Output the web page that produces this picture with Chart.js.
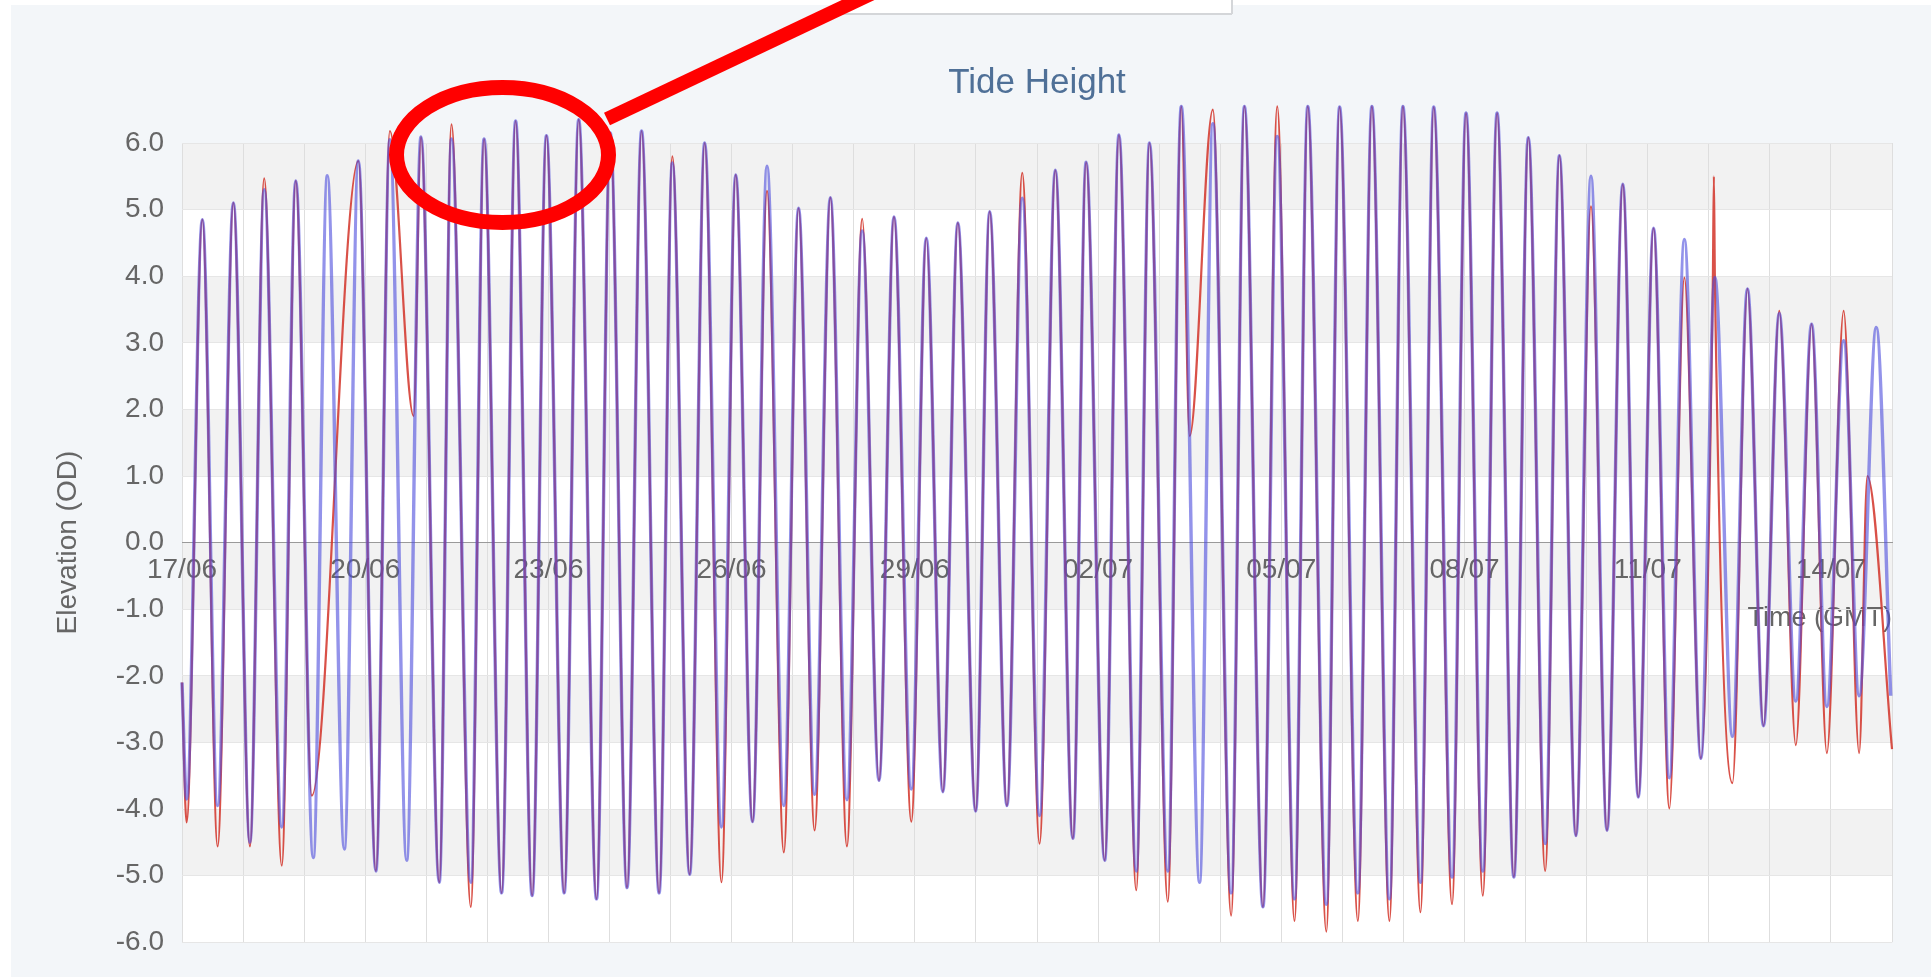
<!DOCTYPE html>
<html>
<head>
<meta charset="utf-8">
<title>Tide Height</title>
<script src="https://cdn.jsdelivr.net/npm/chart.js@4.4.1/dist/chart.umd.min.js"></script>
<style>
  html, body { margin: 0; padding: 0; background: #f3f6f9; overflow: hidden; }
  canvas { display: block; }
</style>
</head>
<body>
<canvas id="tide-chart" width="1931" height="977"></canvas>
<script>
// x is hours after 17/06 00:00 GMT, y is elevation (m OD)
const dayLabels = ['17/06', '20/06', '23/06', '26/06', '29/06', '02/07', '05/07', '08/07', '11/07', '14/07'];

// blue line: high and low waters
const predictedTide = [
  [0, -2.1], [1.8, -3.85], [8.0, 4.85], [14.0, -3.95], [20.2, 5.1], [26.7, -4.5],
  [32.3, 5.3], [39.2, -4.27], [44.7, 5.43], [51.6, -4.73], [57.1, 5.51], [63.8, -4.6],
  [69.3, 5.73], [76.2, -4.93], [81.7, 6.05], [88.3, -4.77], [93.9, 6.09], [101.1, -5.1],
  [105.9, 6.06], [113.5, -5.1], [118.7, 6.06], [125.6, -5.26], [131.1, 6.33], [137.6, -5.3],
  [143.2, 6.11], [150.2, -5.26], [155.9, 6.35], [162.9, -5.35], [168.3, 6.15], [174.9, -5.18],
  [180.6, 6.18], [187.5, -5.26], [192.7, 5.7], [199.5, -4.98], [205.4, 6.0], [212.0, -4.27],
  [217.6, 5.52], [224.2, -4.19], [229.9, 5.65], [236.5, -3.95], [242.3, 5.02], [248.6, -3.78],
  [254.8, 5.18], [261.3, -3.86], [267.3, 4.68], [273.9, -3.57], [279.8, 4.89], [286.6, -3.7],
  [292.5, 4.57], [299.0, -3.74], [304.9, 4.8], [311.9, -4.03], [317.4, 4.97], [324.2, -3.95],
  [330.2, 5.17], [337.0, -4.1], [343.2, 5.59], [350.1, -4.44], [355.3, 5.71], [362.6, -4.77],
  [368.2, 6.12], [375.0, -4.93], [380.2, 6.0], [387.4, -4.93], [392.7, 6.55], [399.9, -5.1],
  [405.1, 6.29], [412.3, -5.26], [417.5, 6.55], [424.8, -5.47], [430.4, 6.1], [437.2, -5.35],
  [442.4, 6.55], [449.7, -5.43], [454.9, 6.54], [462.1, -5.26], [467.6, 6.55], [474.5, -5.35],
  [479.8, 6.55], [486.7, -5.1], [491.9, 6.54], [499.1, -5.02], [504.6, 6.45], [511.2, -4.93],
  [516.8, 6.45], [523.4, -5.02], [529.1, 6.08], [535.7, -4.52], [541.3, 5.81], [547.8, -4.4],
  [553.7, 5.5], [560.0, -4.32], [566.2, 5.38], [572.3, -3.82], [578.3, 4.72], [584.5, -3.53],
  [590.4, 4.55], [596.9, -3.24], [602.4, 3.98], [609.3, -2.91], [615.2, 3.81], [621.5, -2.75],
  [627.7, 3.44], [634.2, -2.38], [640.4, 3.28], [646.4, -2.46], [653.0, 3.03], [659.1, -2.3],
  [665.8, 3.23], [671.5, -2.3],
];

// red line: recorded levels, with its gaps and the spike on 12/07
const recordedTide = [
  [0, -2.1], [1.8, -4.2], [8.0, 4.85], [14.0, -4.56], [20.2, 5.1], [26.7, -4.56],
  [32.3, 5.47], [39.2, -4.85], [44.7, 5.43], [51.0, -3.8], [69.3, 5.73], [76.2, -4.93],
  [81.7, 6.18], [91.0, 1.9], [93.9, 6.09], [101.1, -5.1], [105.9, 6.28], [113.5, -5.47],
  [118.7, 6.06], [125.6, -5.26], [131.1, 6.33], [137.6, -5.3], [143.2, 6.11], [150.2, -5.26],
  [155.9, 6.35], [162.9, -5.35], [168.3, 6.15], [174.9, -5.18], [180.6, 6.18], [187.5, -5.26],
  [192.7, 5.8], [199.5, -4.98], [205.4, 6.0], [212.0, -5.1], [217.6, 5.52], [224.2, -4.19],
  [229.9, 5.28], [236.5, -4.65], [242.3, 5.02], [248.6, -4.32], [254.8, 5.18], [261.3, -4.56],
  [267.3, 4.86], [273.9, -3.57], [279.8, 4.89], [286.6, -4.19], [292.5, 4.57], [299.0, -3.74],
  [304.9, 4.8], [311.9, -4.03], [317.4, 4.97], [324.2, -3.95], [330.2, 5.55], [337.0, -4.52],
  [343.2, 5.59], [350.1, -4.44], [355.3, 5.71], [362.6, -4.77], [368.2, 6.12], [375.0, -5.22],
  [380.2, 6.0], [387.4, -5.39], [392.7, 6.55], [396.0, 1.6], [405.1, 6.5], [412.3, -5.6],
  [417.5, 6.55], [424.8, -5.47], [430.4, 6.55], [437.2, -5.68], [442.4, 6.55], [449.7, -5.84],
  [454.9, 6.54], [462.1, -5.68], [467.6, 6.55], [474.5, -5.68], [479.8, 6.55], [486.7, -5.55],
  [491.9, 6.54], [499.1, -5.43], [504.6, 6.45], [511.2, -5.3], [516.8, 6.45], [523.4, -5.02],
  [529.1, 6.08], [535.7, -4.93], [541.3, 5.81], [547.8, -4.4], [553.7, 5.05], [560.0, -4.32],
  [566.2, 5.38], [572.3, -3.82], [578.3, 4.72], [584.5, -3.99], [590.4, 3.98], [596.9, -3.24],
  [601.6, 3.95], [602.0, 5.5], [602.4, 3.95], [609.3, -3.61], [615.2, 3.81], [621.5, -2.75],
  [627.7, 3.48], [634.2, -3.04], [640.4, 3.28], [646.4, -3.16], [653.0, 3.48], [659.1, -3.16],
  [662.3, 1.0], [672.0, -3.1],
];

Chart.defaults.font.family = '"Liberation Sans", Arial, sans-serif';

// page background, white plot area and the alternate grey bands
const plotBackground = {
  id: 'plotBackground',
  beforeDraw(chart) {
    const { ctx, chartArea: area } = chart;
    const y = chart.scales.y;
    ctx.save();
    ctx.fillStyle = '#f3f6f9';
    ctx.fillRect(0, 0, chart.width, chart.height);
    ctx.fillStyle = '#ffffff';
    ctx.fillRect(0, 0, chart.width, 5);
    ctx.fillRect(0, 0, 11, chart.height);
    ctx.fillRect(area.left, area.top, area.width, area.height);
    ctx.fillStyle = '#f2f2f2';
    for (let v = -5; v < 6; v += 2) {
      const top = y.getPixelForValue(v + 1);
      const bottom = y.getPixelForValue(v);
      ctx.fillRect(area.left, top, area.width, bottom - top);
    }
    ctx.restore();
  },
};

// the red ring and pointer drawn over the screenshot
const markup = {
  id: 'markup',
  afterDraw(chart) {
    const { ctx } = chart;
    ctx.save();
    // cropped box at the top edge
    ctx.fillStyle = '#ffffff';
    ctx.fillRect(837, 0, 394, 13);
    ctx.fillStyle = '#d4d6d9';
    ctx.fillRect(837, 13, 395, 2);
    ctx.fillRect(1231, 0, 2, 14);

    ctx.strokeStyle = '#ff0000';
    ctx.lineWidth = 15;
    ctx.beginPath();
    ctx.ellipse(502.5, 155, 106, 67.5, 0, 0, Math.PI * 2);
    ctx.stroke();

    ctx.lineWidth = 14;
    ctx.lineCap = 'butt';
    ctx.beginPath();
    ctx.moveTo(607, 119);
    ctx.lineTo(875, -8);
    ctx.stroke();
    ctx.restore();
  },
};

function toPoints(pairs) {
  return pairs.map(([x, y]) => ({ x, y }));
}

new Chart(document.getElementById('tide-chart'), {
  type: 'line',
  data: {
    datasets: [
      {
        label: 'Predicted',
        data: toPoints(predictedTide),
        borderColor: 'rgba(75, 75, 220, 0.6)',
        borderWidth: 3.4,
        pointRadius: 0,
        cubicInterpolationMode: 'monotone',
        clip: false,
      },
      {
        label: 'Recorded',
        data: toPoints(recordedTide),
        borderColor: 'rgba(210, 50, 40, 0.85)',
        borderWidth: 2.2,
        pointRadius: 0,
        cubicInterpolationMode: 'monotone',
        clip: false,
      },
    ],
  },
  options: {
    responsive: false,
    animation: false,
    events: [],
    layout: { padding: { left: 0, right: 39, top: 0, bottom: 16 } },
    plugins: {
      legend: { display: false },
      tooltip: { enabled: false },
      title: {
        display: true,
        fullSize: false,
        text: 'Tide Height',
        color: '#4f7097',
        font: { size: 35, weight: 'normal' },
        padding: { top: 62, bottom: 39 },
      },
    },
    scales: {
      x: {
        type: 'linear',
        min: 0,
        max: 672,
        position: { y: 0 },
        grid: { color: '#dedede', drawTicks: false },
        border: { color: '#9a9a9a', width: 1 },
        ticks: {
          stepSize: 24,
          autoSkip: false,
          minRotation: 0,
          maxRotation: 0,
          padding: 11,
          color: '#666',
          font: { size: 28 },
          callback: (value) => (value % 72 === 0 ? dayLabels[value / 72] || '' : ''),
        },
        title: {
          display: true,
          text: 'Time (GMT)',
          align: 'end',
          color: '#666',
          font: { size: 27 },
          padding: { top: 4, bottom: 0 },
        },
      },
      y: {
        min: -6,
        max: 6,
        grid: {
          color: (ctx) => (ctx.tick && ctx.tick.value === 0 ? '#9a9a9a' : '#e6e6e6'),
          drawTicks: false,
        },
        border: { display: false },
        ticks: {
          stepSize: 1,
          padding: 18,
          color: '#666',
          font: { size: 28 },
          callback: (value) => value.toFixed(1),
        },
        title: {
          display: true,
          text: 'Elevation (OD)',
          color: '#666',
          font: { size: 28 },
          padding: { top: 51, bottom: 0 },
        },
        afterFit(scale) {
          scale.width = 182;
        },
      },
    },
  },
  plugins: [plotBackground, markup],
});
</script>
</body>
</html>
